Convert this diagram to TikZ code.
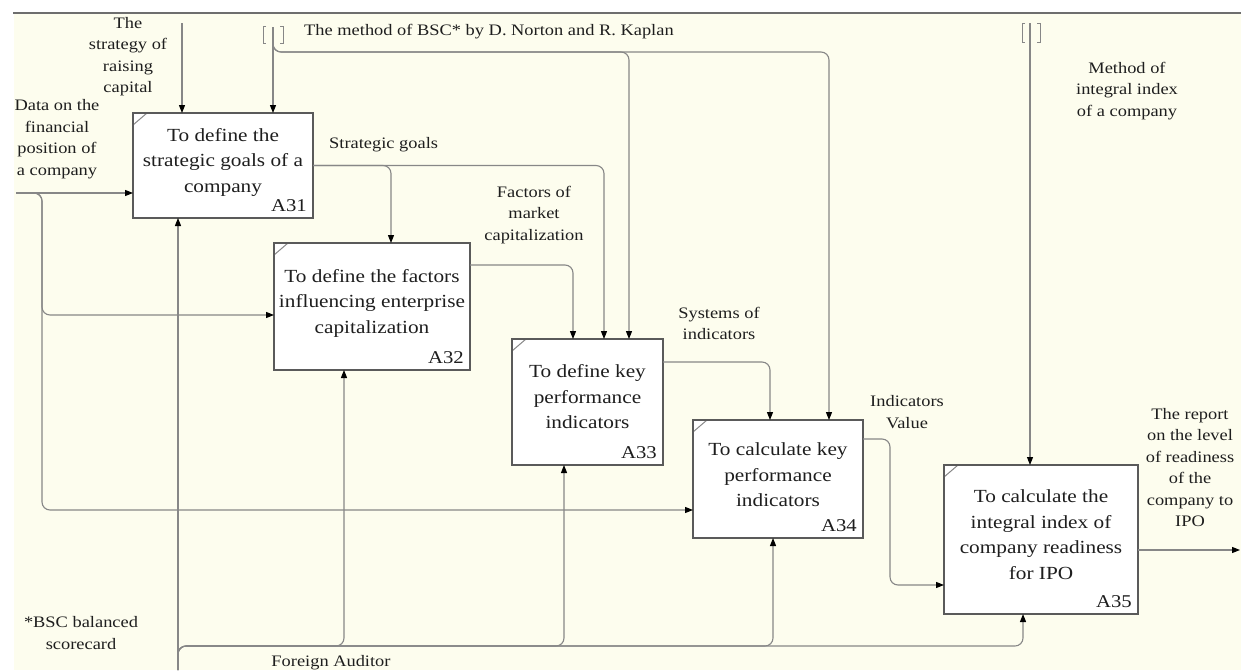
\documentclass[tikz,border=0pt]{standalone}
\usepackage{fontspec}
\setmainfont{Liberation Serif}[FakeStretch=1.15]
\usetikzlibrary{arrows.meta}
\definecolor{cream}{RGB}{253,253,238}
\definecolor{linec}{RGB}{135,135,135}
\definecolor{boxc}{RGB}{90,90,90}
\definecolor{txtc}{RGB}{30,30,30}
\definecolor{framec}{RGB}{110,110,110}
\newcommand\bxf{\fontsize{18.5}{25.5}\selectfont}
\newcommand\lbf{\fontsize{16}{21.5}\selectfont}
\newcommand\idf{\fontsize{18}{20}\selectfont}
\begin{document}
\begin{tikzpicture}[x=1pt,y=-1pt,
  box/.style={draw=boxc, line width=1.8pt, fill=white, inner sep=0pt, outer sep=0pt,
    path picture={\draw[linec, line width=1pt] ([yshift=-12pt]path picture bounding box.north west) -- ([xshift=14pt]path picture bounding box.north west);}},
  idlab/.style={label={[anchor=south east, inner xsep=6pt, inner ysep=6pt, font=\idf, text=txtc]south east:#1}},
  btxt/.style={align=center, font=\bxf, text=txtc, inner sep=0pt},
  ltxt/.style={align=center, font=\lbf, text=txtc, inner sep=0pt},
  conn/.style={draw=linec, line width=1.1pt, rounded corners=8pt},
  arr/.style={conn, -{Triangle[length=8pt,width=6pt,color=black]}},
  tunnel/.style={draw=linec, line width=0.8pt}
]
\useasboundingbox (0,0) rectangle (1241,670);
\fill[white] (0,0) rectangle (1241,670);
\fill[cream] (14,14) rectangle (1241,670);
\draw[framec, line width=1.5pt] (13,13) -- (1241,13);

% boxes
\node[box, minimum width=180pt, minimum height=105pt, idlab=A31] (a31) at (223,165.5) {};
\node[box, minimum width=196pt, minimum height=127pt, idlab=A32] (a32) at (372,306.5) {};
\node[box, minimum width=151pt, minimum height=126pt, idlab=A33] (a33) at (587.5,402) {};
\node[box, minimum width=170pt, minimum height=118pt, idlab=A34] (a34) at (778,479) {};
\node[box, minimum width=194pt, minimum height=149pt, idlab=A35] (a35) at (1041,539.5) {};

\node[btxt] (t31) at (223,162) {To define the\\strategic goals of a\\company};
\node[btxt] (t32) at (372,303) {To define the factors\\influencing enterprise\\capitalization};
\node[btxt] (t33) at (587.5,397) {To define key\\performance\\indicators};
\node[btxt] (t34) at (778,475) {To calculate key\\performance\\indicators};
\node[btxt] (t35) at (1041,534.5) {To calculate the\\integral index of\\company readiness\\for IPO};

% coordinates
\coordinate (dataL) at (16,193);
\coordinate (y315) at (0,315);
\coordinate (y510) at (0,510);
\coordinate (strT) at (182,23);
\coordinate (bscT) at (273,27);
\coordinate (bscJ) at (629,52);
\coordinate (bscR) at (829,52);
\coordinate (x391) at (391,0);
\coordinate (x604) at (604,0);
\coordinate (y265) at (0,265);
\coordinate (x573) at (573,0);
\coordinate (y362) at (0,362);
\coordinate (x770) at (770,0);
\coordinate (y439) at (0,439);
\coordinate (ivC) at (890,585);
\coordinate (y585) at (0,585);
\coordinate (mT) at (1030,23);
\coordinate (y550) at (0,550);
\coordinate (outR) at (1240,550);
\coordinate (mechB) at (178,670);
\coordinate (mech2) at (344,646);
\coordinate (mech3) at (564,646);
\coordinate (mech4) at (773,646);
\coordinate (mech5) at (1023,646);

% tunnels
\draw[tunnel] (266,26) -- (263,26) -- (263,43) -- (266,43);
\draw[tunnel] (280,26) -- (283,26) -- (283,43) -- (280,43);
\draw[tunnel] (1025,23) -- (1022,23) -- (1022,42) -- (1025,42);
\draw[tunnel] (1037,23) -- (1040,23) -- (1040,42) -- (1037,42);

% inputs
\draw[arr] (dataL) -- (a31.west |- dataL);
\draw[arr] (dataL) -| (42,315) -- (a32.west |- y315);
\draw[arr] (dataL) -| (42,510) -- (a34.west |- y510);

% controls
\draw[arr] (strT) -- (strT |- a31.north);
\draw[arr] (bscT) -- (bscT |- a31.north);
\draw[arr] (bscT) |- (bscJ) -- (bscJ |- a33.north);
\draw[arr] (bscT) |- (bscR) -- (bscR |- a34.north);
\draw[arr] (mT) -- (mT |- a35.north);

% outputs
\draw[arr] (a31.east) -| (x391 |- a32.north);
\draw[arr] (a31.east) -| (x604 |- a33.north);
\draw[arr] (a32.east |- y265) -| (x573 |- a33.north);
\draw[arr] (a33.east |- y362) -| (x770 |- a34.north);
\draw[arr] (a34.east |- y439) -| (ivC) -- (a35.west |- y585);
\draw[arr] (a35.east |- y550) -- (outR);

% mechanism
\draw[arr] (mechB) -- (mechB |- a31.south);
\draw[arr] (mechB) |- (mech2) -- (mech2 |- a32.south);
\draw[arr] (mechB) |- (mech3) -- (mech3 |- a33.south);
\draw[arr] (mechB) |- (mech4) -- (mech4 |- a34.south);
\draw[arr] (mechB) |- (mech5) -- (mech5 |- a35.south);

% labels
\node[ltxt] (lstr) at (128,56.5) {The\\strategy of\\raising\\capital};
\node[ltxt] (ldata) at (57,139) {Data on the\\financial\\position of\\a company};
\node[ltxt, anchor=west] (lbsc) at (304,32) {The method of BSC* by D. Norton and R. Kaplan};
\node[ltxt, anchor=west] (lsg) at (329,145) {Strategic goals};
\node[ltxt] (lfac) at (534,215) {Factors of\\market\\capitalization};
\node[ltxt] (lsys) at (719,323.5) {Systems of\\indicators};
\node[ltxt] (liv) at (907,412) {Indicators\\Value};
\node[ltxt] (lmeth) at (1127,91) {Method of\\integral index\\of a company};
\node[ltxt] (lrep) at (1190,467.5) {The report\\on the level\\of readiness\\of the\\company to\\IPO};
\node[ltxt] (lnote) at (81,633) {*BSC balanced\\scorecard};
\node[ltxt] (lfa) at (331,663) {Foreign Auditor};
\end{tikzpicture}
\end{document}
